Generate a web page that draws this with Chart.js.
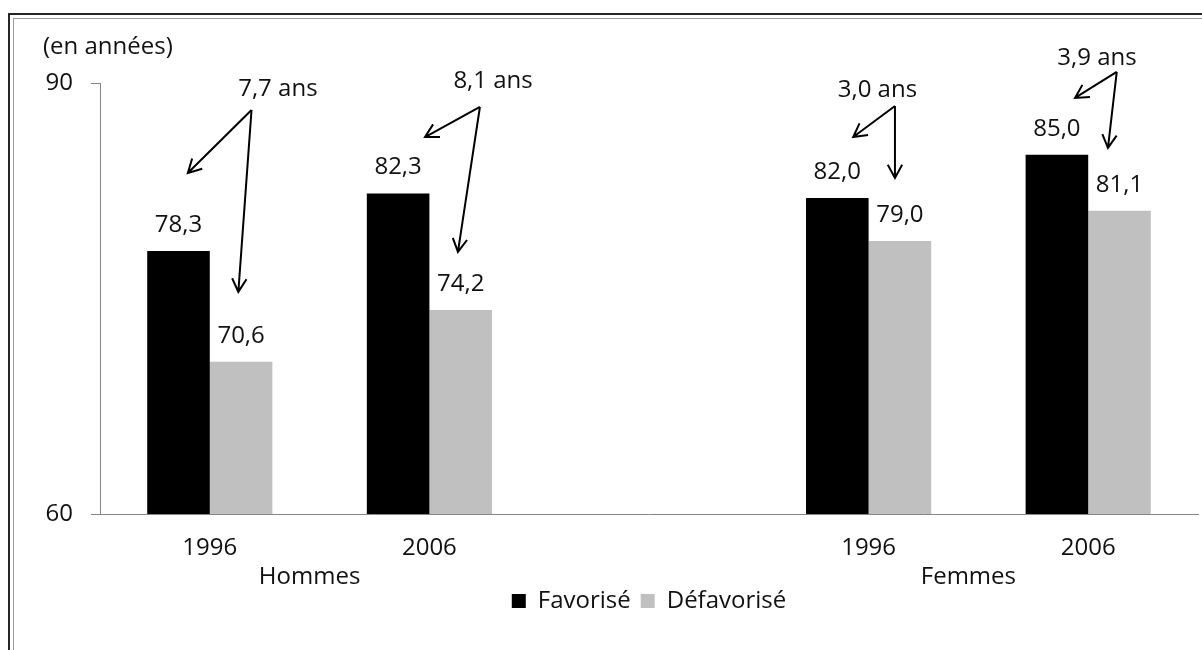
<!DOCTYPE html>
<html lang="fr">
<head>
    <meta charset="UTF-8">
    <title>Espérance de vie à 35 ans</title>
    <script src="https://cdn.jsdelivr.net/npm/chart.js"></script>
    <style>
        html, body { margin: 0; background: #fff; overflow: hidden; }
        .frame-outer {
            position: absolute; left: 8px; top: 13px; width: 1300px; height: 700px;
            border-left: 2px solid #262626; border-top: 2px solid #262626;
        }
        .frame-inner {
            position: absolute; left: 13px; top: 18px; width: 1300px; height: 700px;
            border-left: 1px solid #9a9a9a; border-top: 1px solid #9a9a9a;
        }
        #wrap { position: absolute; left: 0; top: 0; width: 1202px; height: 650px; }
    </style>
</head>
<body>
    <div class="frame-outer"></div>
    <div class="frame-inner"></div>
    <div id="wrap">
        <canvas id="lifeChart" width="1202" height="650"></canvas>
    </div>

    <script>
        // Data
        const categories = ['1996', '2006', '', '1996', '2006'];
        const groups = ['Hommes', 'Femmes'];
        const groupCats = [[0, 1], [3, 4]];
        const favorise = [78.3, 82.3, null, 82.0, 85.0];
        const defavorise = [70.6, 74.2, null, 79.0, 81.1];
        const yMin = 60, yMax = 90;

        // Arrow annotations: [category offset, value]
        const gapCats = [0, 1, 3, 4];
        const gapTextPos = [[0.31, 89.58], [0.29, 90.14], [0.04, 89.51], [0.04, 91.74]];
        const gapFrom = [[0.19, 88.12], [0.23, 88.33], [0.12, 88.40], [0.13, 90.77]];
        const gapToFav = [[-0.10, 83.74], [-0.02, 86.24], [-0.07, 86.24], [-0.06, 88.96]];
        const gapToDef = [[0.13, 75.46], [0.13, 78.24], [0.12, 83.39], [0.09, 85.48]];

        const FONT = "'Open Sans', sans-serif";
        const TEXT = '#111';
        const AXIS = '#868686';

        Chart.defaults.font.family = FONT;
        Chart.defaults.font.size = 24;
        Chart.defaults.color = TEXT;

        const fmt = v => v.toFixed(1).replace('.', ',');

        function drawArrow(ctx, x1, y1, x2, y2) {
            const ang = Math.atan2(y2 - y1, x2 - x1);
            const len = 15, spread = 0.5;
            ctx.beginPath();
            ctx.moveTo(x1, y1);
            ctx.lineTo(x2, y2);
            ctx.moveTo(x2 - len * Math.cos(ang - spread), y2 - len * Math.sin(ang - spread));
            ctx.lineTo(x2, y2);
            ctx.lineTo(x2 - len * Math.cos(ang + spread), y2 - len * Math.sin(ang + spread));
            ctx.stroke();
        }

        const extras = {
            id: 'extras',
            afterDraw(chart) {
                const { ctx, chartArea, scales: { x, y } } = chart;
                const catW = x.getPixelForValue(1) - x.getPixelForValue(0);
                const px = (cat, off) => x.getPixelForValue(cat) + off * catW;

                ctx.save();
                ctx.fillStyle = TEXT;
                ctx.font = '24px ' + FONT;
                ctx.textBaseline = 'middle';

                // unit label
                ctx.textAlign = 'left';
                ctx.fillText('(en années)', chartArea.left - 57, chartArea.top - 36);

                // value labels above bars
                ctx.textAlign = 'center';
                chart.data.datasets.forEach((ds, di) => {
                    chart.getDatasetMeta(di).data.forEach((bar, i) => {
                        if (ds.data[i] == null) return;
                        ctx.fillText(fmt(ds.data[i]), bar.x, bar.y - 26);
                    });
                });

                // group labels
                groups.forEach((g, gi) => {
                    const [a, b] = groupCats[gi];
                    const mid = (x.getPixelForValue(a) + x.getPixelForValue(b)) / 2;
                    ctx.fillText(g, mid - 10, chartArea.bottom + 63);
                });

                // gap arrows
                ctx.strokeStyle = '#000';
                ctx.lineWidth = 2;
                gapCats.forEach((c, k) => {
                    const gap = favorise[c] - defavorise[c];
                    ctx.fillText(gap.toFixed(1).replace('.', ',') + ' ans',
                        px(c, gapTextPos[k][0]), y.getPixelForValue(gapTextPos[k][1]));
                    const fx = px(c, gapFrom[k][0]), fy = y.getPixelForValue(gapFrom[k][1]);
                    drawArrow(ctx, fx, fy, px(c, gapToFav[k][0]), y.getPixelForValue(gapToFav[k][1]));
                    drawArrow(ctx, fx, fy, px(c, gapToDef[k][0]), y.getPixelForValue(gapToDef[k][1]));
                });
                ctx.restore();
            }
        };

        new Chart(document.getElementById('lifeChart'), {
            type: 'bar',
            data: {
                labels: categories,
                datasets: [{
                    label: 'Favorisé',
                    data: favorise,
                    backgroundColor: '#000000',
                    borderWidth: 0,
                    categoryPercentage: 0.57,
                    barPercentage: 1.0
                }, {
                    label: 'Défavorisé',
                    data: defavorise,
                    backgroundColor: '#c0c0c0',
                    borderWidth: 0,
                    categoryPercentage: 0.57,
                    barPercentage: 1.0
                }]
            },
            options: {
                responsive: false,
                animation: false,
                devicePixelRatio: 1,
                layout: { padding: { left: 0, top: 83, right: 4, bottom: 27 } },
                scales: {
                    x: {
                        grid: { display: false, drawTicks: false },
                        border: { color: AXIS, width: 1 },
                        ticks: { padding: 20, color: TEXT, maxRotation: 0 },
                        afterFit(scale) { scale.height = 65; }
                    },
                    y: {
                        min: yMin,
                        max: yMax,
                        grid: { drawOnChartArea: false, color: AXIS, tickLength: 9 },
                        border: { color: AXIS, width: 1 },
                        ticks: { stepSize: yMax - yMin, padding: 18, color: TEXT },
                        afterFit(scale) { scale.width = 100; }
                    }
                },
                plugins: {
                    legend: {
                        position: 'bottom',
                        fullSize: false,
                        labels: { boxWidth: 14, boxHeight: 14, padding: 10, color: TEXT }
                    },
                    tooltip: { enabled: false }
                }
            },
            plugins: [extras]
        });
    </script>
</body>
</html>
